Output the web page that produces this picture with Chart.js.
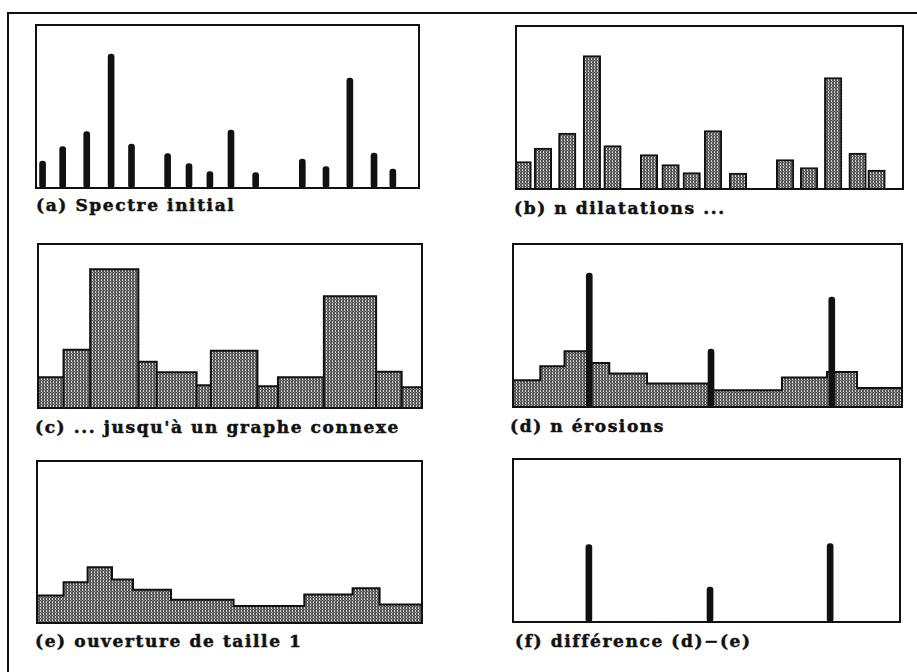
<!DOCTYPE html>
<html>
<head>
<meta charset="utf-8">
<script src="https://cdn.jsdelivr.net/npm/chart.js@4/dist/chart.umd.min.js"></script>
<style>
  html, body { margin: 0; padding: 0; background: #fff; }
  body { width: 917px; height: 672px; position: relative; overflow: hidden; }
  #frame { position: absolute; left: 7px; top: 12px; width: 930px; height: 680px;
           border-top: 2px solid #111; border-left: 2px solid #111; }
  canvas { position: absolute; }
  .cap { position: absolute; font-family: "DejaVu Serif", serif; font-weight: bold;
         font-size: 17px; letter-spacing: 1.6px; line-height: 20px; color: #111;
         -webkit-text-stroke: 0.5px #111; white-space: pre; }
</style>
</head>
<body>
<div id="frame"></div>
<canvas id="pa"></canvas>
<canvas id="pb"></canvas>
<canvas id="pc"></canvas>
<canvas id="pd"></canvas>
<canvas id="pe"></canvas>
<canvas id="pf"></canvas>
<div class="cap" id="la">(a) Spectre initial</div>
<div class="cap" id="lb">(b) n dilatations ...</div>
<div class="cap" id="lc">(c) ... jusqu'à un graphe connexe</div>
<div class="cap" id="ld">(d) n érosions</div>
<div class="cap" id="le">(e) ouverture de taille 1</div>
<div class="cap" id="lf">(f) différence (d)−(e)</div>
<script>
// Channel axis runs 0..385, count axis 0..163 (arbitrary units)
const channelMax = 385;
const countMax = 163;

// (a) initial spectrum: line positions and counts
const channelPos = [6.6, 26.8, 51, 75.5, 96, 132.3, 153.8, 174.8, 196, 220.8, 267.7, 291.5, 315.5, 339.8, 358.7];
const initialCounts = [27, 41.5, 56.5, 134, 44, 34.5, 24.5, 16.5, 58, 15.5, 29, 21.5, 110, 35, 19];

// (b) after n dilations: same peaks, widened
const dilatedCounts = [27.5, 41, 56, 133.5, 43.5, 34.5, 24.5, 16.5, 58.5, 16, 29.5, 21.5, 111.5, 36, 19];

// (c) connected graph: block edges and block heights
const connexeEdges = [0, 25.6, 52.3, 100.6, 119, 159, 173.3, 220, 240.6, 286.6, 339, 364.6, 385];
const connexeHeights = [30.5, 58, 138, 46, 35.5, 22.5, 57, 21.5, 30.5, 111, 36, 20.5];

// (d) after n erosions: step profile plus surviving lines
const erodedEdges = [0, 27, 51, 73.2, 95.3, 132.6, 194.6, 266.2, 310.8, 340.5, 385];
const erodedHeights = [26.7, 40.7, 55.7, 44, 33.4, 23.4, 16.7, 29.4, 35, 19];
const peakChannels = [75.5, 196, 315.5];
const peakCounts = [134, 58, 110];

// (e) opening of size 1
const openedEdges = [0, 26.6, 50.6, 75, 96, 134, 196.6, 267.3, 315.6, 342.6, 385];
const openedHeights = [27.7, 41, 56, 43.7, 33.4, 23.4, 17, 28.7, 35, 18.7];

// (f) difference (d) - (e)
const diffCounts = [77.5, 35, 78.5];

// stippled grey fill used for the widened bars and profiles
function makeStipple() {
  const c = document.createElement('canvas');
  c.width = 3; c.height = 3;
  const g = c.getContext('2d');
  g.fillStyle = '#555555'; g.fillRect(0, 0, 3, 3);
  g.fillStyle = '#c4c4c4'; g.fillRect(1, 0, 1, 1);
  g.fillStyle = '#dcdcdc'; g.fillRect(1, 1, 1, 1);
  g.fillStyle = '#929292'; g.fillRect(2, 2, 1, 1);
  return g.createPattern(c, 'repeat');
}
const stipple = makeStipple();

// outline of the plot area
const boxOutline = {
  id: 'boxOutline',
  afterDatasetsDraw(chart) {
    const a = chart.chartArea, ctx = chart.ctx;
    ctx.save();
    ctx.strokeStyle = '#111';
    ctx.lineWidth = 2;
    ctx.strokeRect(a.left, a.top, a.right - a.left, a.bottom - a.top);
    ctx.restore();
  }
};

const PAD = 4;
function place(id, left, top, w, h) {
  const cv = document.getElementById(id);
  cv.width = Math.round(w + 2 * PAD);
  cv.height = Math.round(h + 2 * PAD);
  cv.style.left = (left - PAD) + 'px';
  cv.style.top = (top - PAD) + 'px';
  return cv;
}

function baseOptions() {
  return {
    responsive: false,
    animation: false,
    devicePixelRatio: 1,
    layout: { padding: PAD },
    plugins: { legend: { display: false }, tooltip: { enabled: false }, title: { display: false } },
    scales: {
      x: { type: 'linear', min: 0, max: channelMax, display: false, offset: false },
      y: { type: 'linear', min: 0, max: countMax, display: false }
    }
  };
}

const pts = (xs, ys) => xs.map((x, i) => ({ x: x, y: ys[i] }));

function spikes(xs, ys) {
  return {
    type: 'bar', data: pts(xs, ys), backgroundColor: '#111', borderWidth: 0,
    barThickness: 6, borderRadius: 3, borderSkipped: false, order: 0
  };
}

function stepProfile(edges, heights) {
  const d = heights.map((h, i) => ({ x: edges[i], y: h }));
  d.push({ x: edges[edges.length - 1], y: heights[heights.length - 1] });
  return {
    type: 'line', data: d, stepped: 'before', fill: 'origin',
    backgroundColor: stipple, borderColor: '#111', borderWidth: 2,
    pointRadius: 0, order: 1
  };
}

// blocks outlined individually: trace each block up, across and back to the base
function blockOutline(edges, heights) {
  const d = [];
  heights.forEach((h, i) => {
    d.push({ x: edges[i], y: 0 });
    d.push({ x: edges[i], y: h });
    d.push({ x: edges[i + 1], y: h });
    d.push({ x: edges[i + 1], y: 0 });
  });
  return {
    type: 'line', data: d, fill: 'origin', tension: 0,
    backgroundColor: stipple, borderColor: '#111', borderWidth: 2,
    pointRadius: 0, order: 1
  };
}

// (a)
new Chart(place('pa', 36, 25, 383, 163), {
  type: 'bar',
  data: { datasets: [spikes(channelPos, initialCounts)] },
  options: baseOptions(),
  plugins: [boxOutline]
});

// (b)
new Chart(place('pb', 516, 25.5, 386.5, 162.5), {
  type: 'bar',
  data: { datasets: [{
    data: pts(channelPos, dilatedCounts), backgroundColor: stipple,
    borderColor: '#111', borderWidth: 2, barThickness: 17.5
  }] },
  options: baseOptions(),
  plugins: [boxOutline]
});

// (c)
new Chart(place('pc', 37.5, 244, 384, 164.3), {
  type: 'line',
  data: { datasets: [blockOutline(connexeEdges, connexeHeights)] },
  options: baseOptions(),
  plugins: [boxOutline]
});

// (d)
new Chart(place('pd', 512.7, 244, 389, 162.7), {
  type: 'bar',
  data: { datasets: [stepProfile(erodedEdges, erodedHeights), spikes(peakChannels, peakCounts)] },
  options: baseOptions(),
  plugins: [boxOutline]
});

// (e)
new Chart(place('pe', 36.7, 460.7, 385, 162), {
  type: 'line',
  data: { datasets: [stepProfile(openedEdges, openedHeights)] },
  options: baseOptions(),
  plugins: [boxOutline]
});

// (f)
new Chart(place('pf', 512.7, 459, 386.7, 162.7), {
  type: 'bar',
  data: { datasets: [spikes(peakChannels, diffCounts)] },
  options: baseOptions(),
  plugins: [boxOutline]
});

// captions
const caps = { la: [36, 195], lb: [514, 198], lc: [35, 417], ld: [510, 416], le: [35, 631], lf: [515, 631] };
Object.keys(caps).forEach(k => {
  const el = document.getElementById(k);
  el.style.left = caps[k][0] + 'px';
  el.style.top = caps[k][1] + 'px';
});
</script>
</body>
</html>
